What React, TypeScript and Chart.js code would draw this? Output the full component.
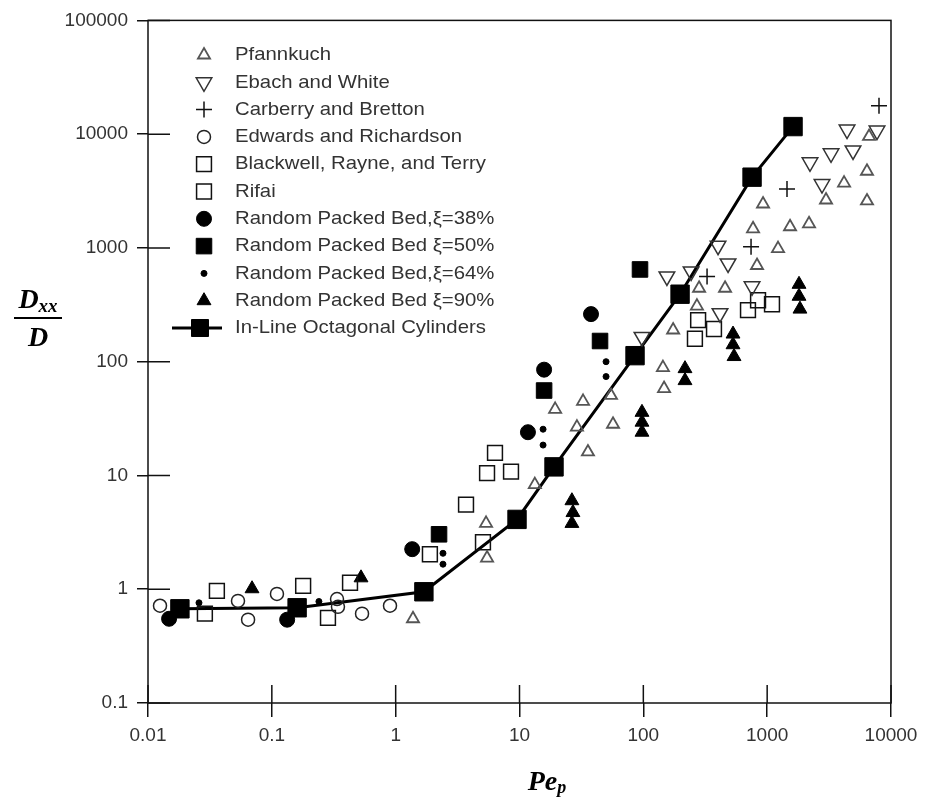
import React, { useEffect, useRef } from 'react';
import { Chart, registerables } from 'chart.js';

Chart.register(...registerables);

// ---------- axis ticks ----------
const xTickValues = [0.01, 0.1, 1, 10, 100, 1000, 10000];
const yTickValues = [0.1, 1, 10, 100, 1000, 10000, 100000];

// ---------- series labels ----------
const seriesLabels = [
  'Pfannkuch',
  'Ebach and White',
  'Carberry and Bretton',
  'Edwards and Richardson',
  'Blackwell, Rayne, and Terry',
  'Rifai',
  'Random Packed Bed,ξ=38%',
  'Random Packed Bed ξ=50%',
  'Random Packed Bed,ξ=64%',
  'Random Packed Bed ξ=90%',
  'In-Line Octagonal Cylinders',
];

// ---------- data (Pe_p, Dxx/D) ----------
const pfannkuchPe = [1.38, 5.47, 5.37, 13.3, 35.7, 19.4, 32.6, 54.8, 56.9, 29.1, 144, 147, 174, 271, 282, 457, 769, 828, 1224, 1530, 2178, 926, 2987, 4178, 6397, 6400, 6650];
const pfannkuchD = [0.55, 1.88, 3.79, 8.3, 16.1, 38.1, 44.8, 50.5, 28.2, 26.6, 88.7, 58.1, 190, 308, 442, 442, 1473, 701, 986, 1535, 1630, 2434, 2638, 3715, 4723, 2588, 9550];

const ebachPe = [97.5, 155, 243, 401, 483, 416, 755, 2218, 2773, 3280, 4934, 4416, 7710];
const ebachD = [165, 562, 622, 1047, 730, 267, 460, 5660, 3640, 6780, 7200, 10990, 10760];

const carberryPe = [327, 741, 1446, 8000];
const carberryD = [562, 1026, 3290, 17780];

const edwardsPe = [0.0125, 0.0533, 0.0643, 0.11, 0.336, 0.342, 0.535, 0.9];
const edwardsD = [0.716, 0.79, 0.54, 0.91, 0.82, 0.7, 0.61, 0.716];

const blackwellPe = [0.0288, 0.036, 0.179, 0.284, 0.428, 1.89, 5.07, 3.7, 5.47, 8.54, 6.34];
const blackwellD = [0.61, 0.966, 1.07, 0.56, 1.14, 2.03, 2.59, 5.55, 10.5, 10.8, 15.8];

const rifaiPe = [261, 372, 277, 700, 844, 1094];
const rifaiD = [159, 194, 232, 284, 347, 320];

const bed38Pe = [0.0148, 0.133, 1.36, 11.7, 15.8, 37.8];
const bed38D = [0.55, 0.54, 2.25, 24.0, 85.1, 262];

const bed50Pe = [2.24, 15.8, 44.7, 94.0];
const bed50D = [3.04, 55.8, 152, 647];

const bed64Pe = [0.0258, 0.24, 2.41, 2.41, 15.5, 15.5, 50.0, 50.0];
const bed64D = [0.76, 0.78, 2.07, 1.66, 25.5, 18.5, 100, 74.0];

const bed90Pe = [0.0692, 0.525, 26.5, 27.0, 26.5, 97.5, 97.5, 97.5, 217, 217, 530, 530, 540, 1808, 1808, 1840];
const bed90D = [1.01, 1.26, 6.0, 4.72, 3.79, 35.9, 29.4, 24.0, 86.9, 68.2, 175, 141, 111, 479, 376, 290];

const inlinePe = [0.0181, 0.16, 1.69, 9.55, 19.0, 85.7, 198, 755, 1618];
const inlineD = [0.673, 0.687, 0.95, 4.11, 11.9, 113, 392, 4188, 11660];

// ---------- marker styles ----------
type Marker = { style: string; r: number; rot?: number; fill: string; stroke: string; lw: number; filled: boolean };
const markers: Marker[] = [
  { style: 'triangle', r: 7, fill: 'rgba(0,0,0,0)', stroke: '#555', lw: 1.8, filled: false },
  { style: 'triangle', r: 9, rot: 180, fill: 'rgba(0,0,0,0)', stroke: '#333', lw: 1.5, filled: false },
  { style: 'cross', r: 8, fill: '#111', stroke: '#111', lw: 1.5, filled: false },
  { style: 'circle', r: 6.5, fill: 'rgba(0,0,0,0)', stroke: '#222', lw: 1.5, filled: false },
  { style: 'rect', r: 10.5, fill: 'rgba(0,0,0,0)', stroke: '#111', lw: 1.5, filled: false },
  { style: 'rect', r: 10.5, fill: 'rgba(0,0,0,0)', stroke: '#111', lw: 1.5, filled: false },
  { style: 'circle', r: 7.5, fill: '#000', stroke: '#000', lw: 1, filled: true },
  { style: 'rect', r: 11, fill: '#000', stroke: '#000', lw: 1, filled: true },
  { style: 'circle', r: 3, fill: '#000', stroke: '#000', lw: 1, filled: true },
  { style: 'triangle', r: 8, fill: '#000', stroke: '#000', lw: 1, filled: true },
  { style: 'rect', r: 13, fill: '#000', stroke: '#000', lw: 1, filled: true },
];

const zip = (xs: number[], ys: number[]) => xs.map((x, i) => ({ x, y: ys[i] }));

const seriesData = [
  zip(pfannkuchPe, pfannkuchD),
  zip(ebachPe, ebachD),
  zip(carberryPe, carberryD),
  zip(edwardsPe, edwardsD),
  zip(blackwellPe, blackwellD),
  zip(rifaiPe, rifaiD),
  zip(bed38Pe, bed38D),
  zip(bed50Pe, bed50D),
  zip(bed64Pe, bed64D),
  zip(bed90Pe, bed90D),
  zip(inlinePe, inlineD),
];

function drawMarker(ctx: CanvasRenderingContext2D, m: Marker, x: number, y: number) {
  ctx.save();
  ctx.lineWidth = m.lw;
  ctx.strokeStyle = m.stroke;
  ctx.fillStyle = m.fill;
  ctx.beginPath();
  const r = m.r;
  if (m.style === 'circle') {
    ctx.arc(x, y, r, 0, Math.PI * 2);
  } else if (m.style === 'rect') {
    const s = r * Math.SQRT1_2;
    ctx.rect(x - s, y - s, 2 * s, 2 * s);
  } else if (m.style === 'triangle') {
    let a = ((m.rot || 0) * Math.PI) / 180;
    ctx.moveTo(x + Math.sin(a) * r, y - Math.cos(a) * r);
    a += (2 * Math.PI) / 3;
    ctx.lineTo(x + Math.sin(a) * r, y - Math.cos(a) * r);
    a += (2 * Math.PI) / 3;
    ctx.lineTo(x + Math.sin(a) * r, y - Math.cos(a) * r);
    ctx.closePath();
  } else if (m.style === 'cross') {
    ctx.moveTo(x, y - r);
    ctx.lineTo(x, y + r);
    ctx.moveTo(x - r, y);
    ctx.lineTo(x + r, y);
  }
  if (m.filled) ctx.fill();
  ctx.stroke();
  ctx.restore();
}

const SERIF = '"Liberation Serif", "Times New Roman", serif';
const SANS = '"Liberation Sans", Arial, sans-serif';

const framePlugin = {
  id: 'frameTicks',
  beforeDatasetsDraw(chart: any) {
    const { ctx, chartArea: a, scales } = chart;
    ctx.save();
    ctx.strokeStyle = '#111';
    ctx.lineWidth = 1.5;
    ctx.strokeRect(a.left, a.top, a.right - a.left, a.bottom - a.top);
    ctx.beginPath();
    xTickValues.forEach((v) => {
      const px = scales.x.getPixelForValue(v);
      ctx.moveTo(px, a.bottom);
      ctx.lineTo(px, a.bottom - 18);
    });
    yTickValues.forEach((v) => {
      const py = scales.y.getPixelForValue(v);
      ctx.moveTo(a.left, py);
      ctx.lineTo(a.left + 22, py);
    });
    ctx.stroke();
    ctx.restore();
  },
  afterDraw(chart: any) {
    const { ctx } = chart;
    ctx.save();
    // ---- legend ----
    const lx = 204;
    const tx = 235;
    const y0 = 55;
    const dy = 27.3;
    seriesLabels.forEach((label, i) => {
      const y = y0 + i * dy;
      const m = markers[i];
      if (i === seriesLabels.length - 1) {
        ctx.save();
        ctx.strokeStyle = '#000';
        ctx.lineWidth = 3;
        ctx.beginPath();
        ctx.moveTo(172, y);
        ctx.lineTo(222, y);
        ctx.stroke();
        ctx.restore();
        drawMarker(ctx, { ...m, r: 12 }, 200, y);
      } else {
        drawMarker(ctx, m, lx, y);
      }
      ctx.save();
      ctx.font = '19px ' + SANS;
      ctx.fillStyle = '#333';
      ctx.textBaseline = 'middle';
      ctx.textAlign = 'left';
      ctx.translate(tx, y);
      ctx.scale(1.07, 1);
      ctx.fillText(label, 0, 0);
      ctx.restore();
    });

    // ---- y axis title: Dxx / D ----
    ctx.fillStyle = '#000';
    ctx.textBaseline = 'alphabetic';
    const cx = 38;
    ctx.font = 'bold italic 28px ' + SERIF;
    const wD = ctx.measureText('D').width;
    ctx.font = 'bold italic 19px ' + SERIF;
    const wxx = ctx.measureText('xx').width;
    const start = cx - (wD + wxx) / 2;
    ctx.font = 'bold italic 28px ' + SERIF;
    ctx.textAlign = 'left';
    ctx.fillText('D', start, 308);
    ctx.font = 'bold italic 19px ' + SERIF;
    ctx.fillText('xx', start + wD, 312);
    ctx.strokeStyle = '#000';
    ctx.lineWidth = 2;
    ctx.beginPath();
    ctx.moveTo(cx - 24, 318);
    ctx.lineTo(cx + 24, 318);
    ctx.stroke();
    ctx.font = 'bold italic 28px ' + SERIF;
    ctx.textAlign = 'center';
    ctx.fillText('D', cx, 346);

    // ---- x axis title: Pe_p ----
    ctx.textAlign = 'left';
    ctx.font = 'bold italic 28px ' + SERIF;
    const wPe = ctx.measureText('Pe').width;
    ctx.font = 'bold italic 18px ' + SERIF;
    const wp = ctx.measureText('p').width;
    const sx = 547 - (wPe + wp) / 2;
    ctx.font = 'bold italic 28px ' + SERIF;
    ctx.fillText('Pe', sx, 790);
    ctx.font = 'bold italic 18px ' + SERIF;
    ctx.fillText('p', sx + wPe, 793);
    ctx.restore();
  },
};

export default function App() {
  const ref = useRef<HTMLCanvasElement>(null);
  useEffect(() => {
    const datasets = seriesData.map((data, i) => {
      const m = markers[i];
      const isLine = i === seriesData.length - 1;
      return {
        label: seriesLabels[i],
        data,
        showLine: isLine,
        borderColor: '#000',
        borderWidth: isLine ? 3 : 0,
        pointStyle: m.style,
        pointRadius: m.r,
        pointHoverRadius: m.r,
        pointRotation: m.rot || 0,
        pointBackgroundColor: m.filled ? m.fill : 'rgba(0,0,0,0)',
        pointBorderColor: m.stroke,
        pointBorderWidth: m.lw,
        clip: false as any,
      };
    });
    const tickFont = { family: SANS, size: 19 };
    const chart = new Chart(ref.current as HTMLCanvasElement, {
      type: 'scatter',
      data: { datasets },
      plugins: [framePlugin],
      options: {
        animation: false,
        responsive: false,
        maintainAspectRatio: false,
        layout: { padding: { top: 15, right: 36, left: 0, bottom: 0 } },
        plugins: { legend: { display: false }, tooltip: { enabled: false } },
        scales: {
          x: {
            type: 'logarithmic',
            min: 0.01,
            max: 10000,
            afterBuildTicks: (s: any) => {
              s.ticks = xTickValues.map((v) => ({ value: v }));
            },
            afterFit: (s: any) => {
              s.height = 95;
            },
            border: { display: false },
            grid: { display: true, drawOnChartArea: false, drawTicks: true, tickLength: 14, color: '#111', lineWidth: 1.5 },
            ticks: {
              autoSkip: false,
              maxRotation: 0,
              minRotation: 0,
              padding: 7,
              color: '#333',
              font: tickFont,
              callback: (v: any) => String(v),
            },
          },
          y: {
            type: 'logarithmic',
            min: 0.1,
            max: 100000,
            afterBuildTicks: (s: any) => {
              s.ticks = yTickValues.map((v) => ({ value: v }));
            },
            afterFit: (s: any) => {
              s.width = 148;
            },
            border: { display: false },
            grid: { display: true, drawOnChartArea: false, drawTicks: true, tickLength: 11, color: '#111', lineWidth: 1.5 },
            ticks: {
              autoSkip: false,
              padding: 9,
              color: '#333',
              font: tickFont,
              callback: (v: any) => String(v),
            },
          },
        },
      } as any,
    });
    return () => chart.destroy();
  }, []);
  return (
    <div style={{ position: 'absolute', left: 0, top: 0, width: 927, height: 798, background: '#fff' }}>
      <canvas ref={ref} width={927} height={798} style={{ display: 'block', width: 927, height: 798 }} />
    </div>
  );
}
